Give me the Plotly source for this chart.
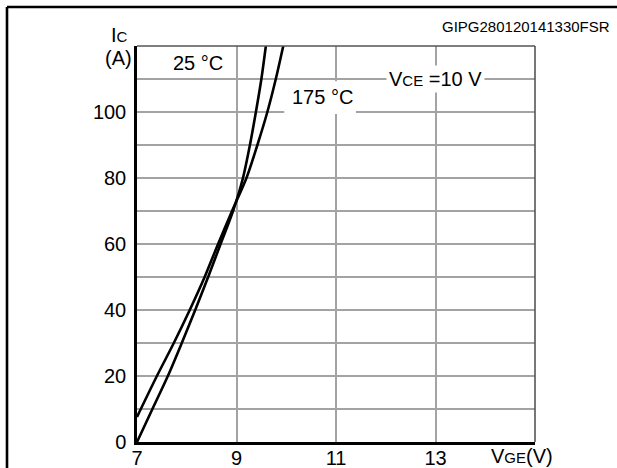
import plotly.graph_objects as go

# ---- data ----
vge_25 = [7.0, 7.31, 7.62, 7.90, 8.17, 8.43, 8.68, 8.93, 9.13, 9.27, 9.39, 9.50, 9.59]
ic_25 = [0, 10, 20, 30, 40, 50, 60, 70, 80, 90, 100, 110, 120]

vge_175 = [7.0, 7.40, 7.74, 8.06, 8.36, 8.63, 8.91, 9.20, 9.42, 9.62, 9.79, 9.94]
ic_175 = [7.6, 20, 30, 40, 50, 60, 70, 80, 90, 100, 110, 120]

x_tickvals = [7, 9, 11, 13, 15]
x_ticktext = ["7", "9", "11", "13", ""]
y_tickvals = [0, 10, 20, 30, 40, 50, 60, 70, 80, 90, 100, 110, 120]
y_ticktext = ["0", "", "20", "", "40", "", "60", "", "80", "", "100", "", ""]

FONT = "Liberation Sans, Arial, sans-serif"
GRID = "#a3a3a3"
FS = 20

fig = go.Figure()
for xs, ys in [(vge_25, ic_25), (vge_175, ic_175)]:
    fig.add_trace(go.Scatter(x=xs, y=ys, mode="lines",
                             line=dict(color="black", width=2.6, shape="spline", smoothing=0.8),
                             showlegend=False, hoverinfo="skip"))

W, H = 617, 468
L, R, T, B = 137, 82, 46, 26
pw, ph = W - L - R, H - T - B

def px(xp):
    return (xp - L) / pw

def py(yp):
    return (H - B - yp) / ph

fig.update_layout(
    template="none",
    width=W, height=H, autosize=False,
    margin=dict(l=L, r=R, t=T, b=B, pad=0, autoexpand=False),
    paper_bgcolor="white", plot_bgcolor="white",
    font=dict(family=FONT, size=FS, color="black"),
    xaxis=dict(range=[7, 15], tickvals=x_tickvals, ticktext=x_ticktext, automargin=False,
               showgrid=True, gridcolor=GRID, gridwidth=1.5, zeroline=False,
               showline=True, linecolor="black", linewidth=2.5,
               ticks="", ticklabelstandoff=-4,
               tickfont=dict(size=FS, family=FONT)),
    yaxis=dict(range=[0, 120], tickvals=y_tickvals, ticktext=y_ticktext, automargin=False,
               showgrid=True, gridcolor=GRID, gridwidth=1.5, zeroline=False,
               showline=True, linecolor="black", linewidth=2.5,
               ticks="outside", ticklen=4, tickcolor="rgba(0,0,0,0)",
               tickfont=dict(size=FS, family=FONT)),
)

shapes = [
    # white box behind "175 °C"
    dict(type="rect", xref="x", yref="y", x0=9.96, x1=11.4, y0=99.4, y1=109.3,
         fillcolor="white", line=dict(width=0), layer="between"),
    # top and right borders of plot area
    dict(type="line", xref="paper", yref="paper", x0=0, x1=1, y0=1, y1=1,
         line=dict(color="#555555", width=1.6)),
    dict(type="line", xref="paper", yref="paper", x0=1, x1=1, y0=0, y1=1,
         line=dict(color="#555555", width=1.6)),
    # outer frame (left and top)
    dict(type="line", xref="paper", yref="paper", x0=px(7), x1=px(7), y0=py(7), y1=py(480),
         line=dict(color="black", width=2.6)),
    dict(type="line", xref="paper", yref="paper", x0=px(7), x1=px(630), y0=py(7), y1=py(7),
         line=dict(color="black", width=2.6)),
]
fig.update_layout(shapes=shapes)

small = "<span style='font-size:15px'>{}</span>"
ann = [
    dict(text="GIPG280120141330FSR", xref="paper", yref="paper", x=px(612), y=py(27),
         xanchor="right", yanchor="middle", showarrow=False, font=dict(size=15)),
    dict(text="I" + small.format("C"), xref="paper", yref="paper", x=px(119), y=py(35),
         xanchor="center", yanchor="middle", showarrow=False),
    dict(text="(A)", xref="paper", yref="paper", x=px(118.5), y=py(58),
         xanchor="center", yanchor="middle", showarrow=False),
    dict(text="V" + small.format("GE") + "(V)", xref="paper", yref="paper", x=px(489), y=py(456),
         xanchor="left", yanchor="middle", showarrow=False),
    dict(text="25 °C", xref="x", yref="y", x=8.22, y=114.7,
         xanchor="center", yanchor="middle", showarrow=False),
    dict(text="175 °C", xref="x", yref="y", x=10.72, y=104.5,
         xanchor="center", yanchor="middle", showarrow=False),
    dict(text="V" + small.format("CE") + " =10 V", xref="x", yref="y", x=12.99, y=110,
         xanchor="center", yanchor="middle", showarrow=False,
         bgcolor="white", borderpad=2),
]
fig.update_layout(annotations=ann)

fig.write_html("out.html", config={"displayModeBar": False},
               post_script="document.body.style.margin='0px';document.body.style.padding='0px';")
